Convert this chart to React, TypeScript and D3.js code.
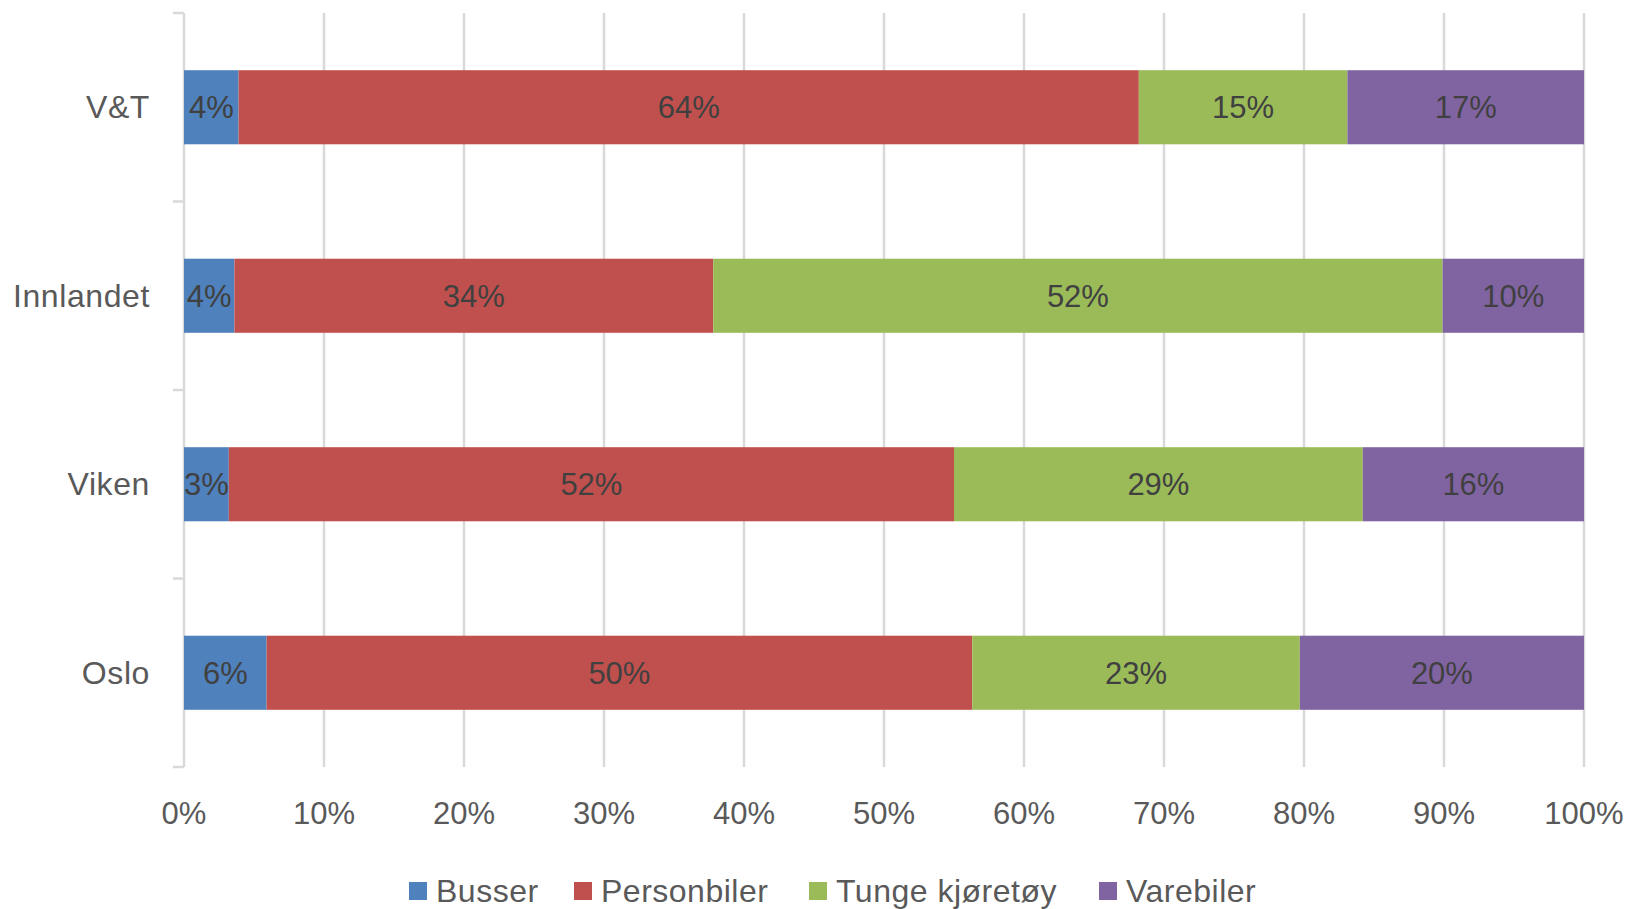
import { useEffect, useRef } from "react";
import * as d3 from "d3";

const width = 1631;
const height = 909;

const margin = { top: 13, right: 47, bottom: 142, left: 184 };

const regions = ["V&T", "Innlandet", "Viken", "Oslo"];
const seriesNames = ["Busser", "Personbiler", "Tunge kjøretøy", "Varebiler"];
const seriesColors = ["#4F81BD", "#C0504D", "#9BBB59", "#8064A2"];

// andel per region, i prosent
const busser = [3.9, 3.6, 3.2, 5.9];
const personbiler = [64.3, 34.2, 51.8, 50.4];
const tunge = [14.9, 52.1, 29.2, 23.4];
const varebiler = [16.9, 10.1, 15.8, 20.3];

const xTicks = [0, 0.1, 0.2, 0.3, 0.4, 0.5, 0.6, 0.7, 0.8, 0.9, 1];

const fontFamily = "'Liberation Sans', Arial, sans-serif";

type Row = { region: string; [key: string]: number | string };

export default function App() {
  const svgRef = useRef<SVGSVGElement | null>(null);

  useEffect(() => {
    if (!svgRef.current) return;
    const svg = d3.select(svgRef.current);
    svg.selectAll("*").remove();

    const rows: Row[] = regions.map((region, i) => ({
      region,
      Busser: busser[i] / 100,
      Personbiler: personbiler[i] / 100,
      "Tunge kjøretøy": tunge[i] / 100,
      Varebiler: varebiler[i] / 100,
    }));

    const x = d3
      .scaleLinear()
      .domain([0, 1])
      .range([margin.left, width - margin.right]);

    const y = d3
      .scaleBand<string>()
      .domain(regions)
      .range([margin.top, height - margin.bottom])
      .paddingInner(0.607)
      .paddingOuter(0.3035);

    const color = d3.scaleOrdinal<string, string>().domain(seriesNames).range(seriesColors);

    const plotTop = margin.top;
    const plotBottom = height - margin.bottom;

    // rutenett
    svg
      .append("g")
      .selectAll("line")
      .data(xTicks)
      .join("line")
      .attr("x1", (d) => x(d))
      .attr("x2", (d) => x(d))
      .attr("y1", plotTop)
      .attr("y2", plotBottom)
      .attr("stroke", "#d9d9d9")
      .attr("stroke-width", 2.5);

    // kategoriakse med små streker
    const step = y.step();
    const catTicks = d3.range(regions.length + 1).map((i) => plotTop + i * step);
    svg
      .append("g")
      .selectAll("line")
      .data(catTicks)
      .join("line")
      .attr("x1", margin.left - 11)
      .attr("x2", margin.left)
      .attr("y1", (d) => d)
      .attr("y2", (d) => d)
      .attr("stroke", "#d9d9d9")
      .attr("stroke-width", 2.5);

    const stack = d3.stack<Row>().keys(seriesNames).value((d, key) => d[key] as number);
    const series = stack(rows);

    // stolper
    const layers = svg
      .append("g")
      .selectAll("g")
      .data(series)
      .join("g")
      .attr("fill", (d) => color(d.key));

    layers
      .selectAll("rect")
      .data((d) => d)
      .join("rect")
      .attr("x", (d) => x(d[0]))
      .attr("width", (d) => x(d[1]) - x(d[0]))
      .attr("y", (d) => y(d.data.region as string)!)
      .attr("height", y.bandwidth());

    // verdietiketter
    svg
      .append("g")
      .selectAll("g")
      .data(series)
      .join("g")
      .selectAll("text")
      .data((d) => d)
      .join("text")
      .attr("x", (d) => (x(d[0]) + x(d[1])) / 2)
      .attr("y", (d) => y(d.data.region as string)! + y.bandwidth() / 2)
      .attr("dy", "0.35em")
      .attr("text-anchor", "middle")
      .attr("fill", "#404040")
      .style("font-family", fontFamily)
      .style("font-size", "31px")
      .text((d) => `${Math.round((d[1] - d[0]) * 100)}%`);

    // kategorietiketter
    svg
      .append("g")
      .selectAll("text")
      .data(regions)
      .join("text")
      .attr("x", margin.left - 34)
      .attr("y", (d) => y(d)! + y.bandwidth() / 2)
      .attr("dy", "0.35em")
      .attr("text-anchor", "end")
      .attr("fill", "#595959")
      .style("font-family", fontFamily)
      .style("font-size", "32px")
      .style("letter-spacing", "0.6px")
      .text((d) => d);

    // x-akse etiketter
    svg
      .append("g")
      .selectAll("text")
      .data(xTicks)
      .join("text")
      .attr("x", (d) => x(d))
      .attr("y", 813)
      .attr("dy", "0.35em")
      .attr("text-anchor", "middle")
      .attr("fill", "#595959")
      .style("font-family", fontFamily)
      .style("font-size", "31px")
      .text((d) => d3.format(".0%")(d));

    // tegnforklaring
    const legendX = [409, 574, 809, 1099];
    const legend = svg
      .append("g")
      .selectAll("g")
      .data(seriesNames)
      .join("g")
      .attr("transform", (_, i) => `translate(${legendX[i]},891)`);

    legend
      .append("rect")
      .attr("x", 0)
      .attr("y", -9)
      .attr("width", 18)
      .attr("height", 18)
      .attr("fill", (d) => color(d));

    legend
      .append("text")
      .attr("x", 27)
      .attr("y", 0)
      .attr("dy", "0.35em")
      .attr("fill", "#595959")
      .style("font-family", fontFamily)
      .style("font-size", "32px")
      .style("letter-spacing", "0.5px")
      .text((d) => d);
  }, []);

  return (
    <svg
      ref={svgRef}
      width={width}
      height={height}
      viewBox={`0 0 ${width} ${height}`}
      style={{ position: "absolute", left: 0, top: 0, background: "#ffffff" }}
    />
  );
}
